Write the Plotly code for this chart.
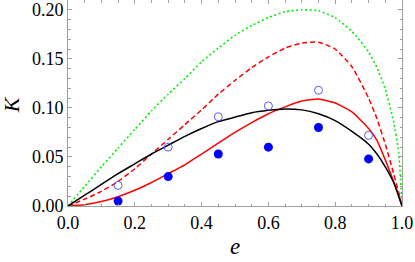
import plotly.graph_objects as go

# curve samples
e_curve = [0.0, 0.05, 0.1, 0.15, 0.2, 0.25, 0.3, 0.35, 0.4, 0.45, 0.5, 0.55, 0.6,
           0.65, 0.7, 0.75, 0.8, 0.85, 0.9, 0.925, 0.95, 0.975, 0.99, 1.0]
k_green = [0.0, 0.020, 0.040, 0.059, 0.078, 0.097, 0.114, 0.130, 0.147, 0.161, 0.174, 0.184, 0.192,
           0.198, 0.200, 0.199, 0.192, 0.178, 0.157, 0.141, 0.119, 0.086, 0.055, 0.0]
k_red_dash = [0.0, 0.007, 0.015, 0.025, 0.038, 0.053, 0.068, 0.083, 0.098, 0.114, 0.128, 0.141, 0.152,
              0.161, 0.166, 0.167, 0.160, 0.142, 0.110, 0.089, 0.063, 0.033, 0.014, 0.0]
k_red = [0.0, 0.0013, 0.0045, 0.0095, 0.016, 0.024, 0.033, 0.042, 0.053, 0.064, 0.075, 0.085, 0.094,
         0.101, 0.107, 0.109, 0.105, 0.096, 0.079, 0.067, 0.047, 0.025, 0.011, 0.0]
k_black = [0.0, 0.011, 0.022, 0.033, 0.043, 0.053, 0.062, 0.071, 0.079, 0.086, 0.0905, 0.095, 0.0975,
           0.099, 0.098, 0.094, 0.087, 0.076, 0.063, 0.053, 0.040, 0.024, 0.010, 0.0]

# data points
e_pts = [0.15, 0.3, 0.45, 0.6, 0.75, 0.9]
k_filled = [0.005, 0.030, 0.053, 0.060, 0.080, 0.048]
k_open = [0.021, 0.060, 0.091, 0.102, 0.118, 0.072]

x_ticks = [0.0, 0.2, 0.4, 0.6, 0.8, 1.0]
y_ticks = [0.0, 0.05, 0.10, 0.15, 0.20]

SERIF = "Liberation Serif"

fig = go.Figure()
fig.add_trace(go.Scatter(x=e_curve, y=k_green, mode="lines",
                         line=dict(color="#00f000", width=1.6, dash="2px,2.5px", shape="spline", smoothing=0.5)))
fig.add_trace(go.Scatter(x=e_curve, y=k_red_dash, mode="lines",
                         line=dict(color="#ff0000", width=1.5, dash="5px,3px", shape="spline", smoothing=0.5)))
fig.add_trace(go.Scatter(x=e_curve, y=k_red, mode="lines",
                         line=dict(color="#ff0000", width=1.5, shape="spline", smoothing=0.5)))
fig.add_trace(go.Scatter(x=e_curve, y=k_black, mode="lines",
                         line=dict(color="#000000", width=1.5, shape="spline", smoothing=0.5)))
fig.add_trace(go.Scatter(x=e_pts, y=k_open, mode="markers",
                         marker=dict(symbol="circle-open", size=8, color="#5a5aff", line=dict(width=1))))
fig.add_trace(go.Scatter(x=e_pts, y=k_filled, mode="markers",
                         marker=dict(symbol="circle", size=9, color="#0000ff")))

axis_common = dict(showline=True, linecolor="#a0a0a0", linewidth=1, mirror="allticks",
                   ticks="inside", ticklen=4, tickcolor="#a0a0a0", showgrid=False, zeroline=False,
                   automargin=False)

fig.update_xaxes(range=[0, 1], tickvals=x_ticks, ticktext=[f"{v:.1f}" for v in x_ticks],
                 tickfont=dict(family=SERIF, size=18, color="#000000"),
                 minor=dict(dtick=0.05, ticklen=2.5, tickcolor="#a0a0a0", ticks="inside"),
                 **axis_common)
fig.update_yaxes(range=[0, 0.21], tickvals=y_ticks, ticktext=[f"{v:.2f}" for v in y_ticks],
                 tickfont=dict(family=SERIF, size=18, color="#000000"),
                 minor=dict(dtick=0.01, ticklen=2.5, tickcolor="#a0a0a0", ticks="inside"),
                 **axis_common)

fig.add_annotation(text="<i>e</i>", xref="paper", yref="paper", x=0.5, y=-0.196,
                   xanchor="center", yanchor="middle", showarrow=False,
                   font=dict(family=SERIF, size=23, color="#000000"))
fig.add_annotation(text="<i>K</i>", xref="paper", yref="paper", x=-0.17, y=0.49,
                   xanchor="center", yanchor="middle", showarrow=False, textangle=-90,
                   font=dict(family=SERIF, size=22, color="#000000"))

fig.update_layout(width=415, height=262, margin=dict(l=68, r=13, t=0, b=56, autoexpand=False),
                  font=dict(family=SERIF, size=18, color="#000000"),
                  plot_bgcolor="white", paper_bgcolor="white", showlegend=False)

fig.write_html("out.html", config={"displayModeBar": False},
               post_script="document.body.style.margin='0';")
